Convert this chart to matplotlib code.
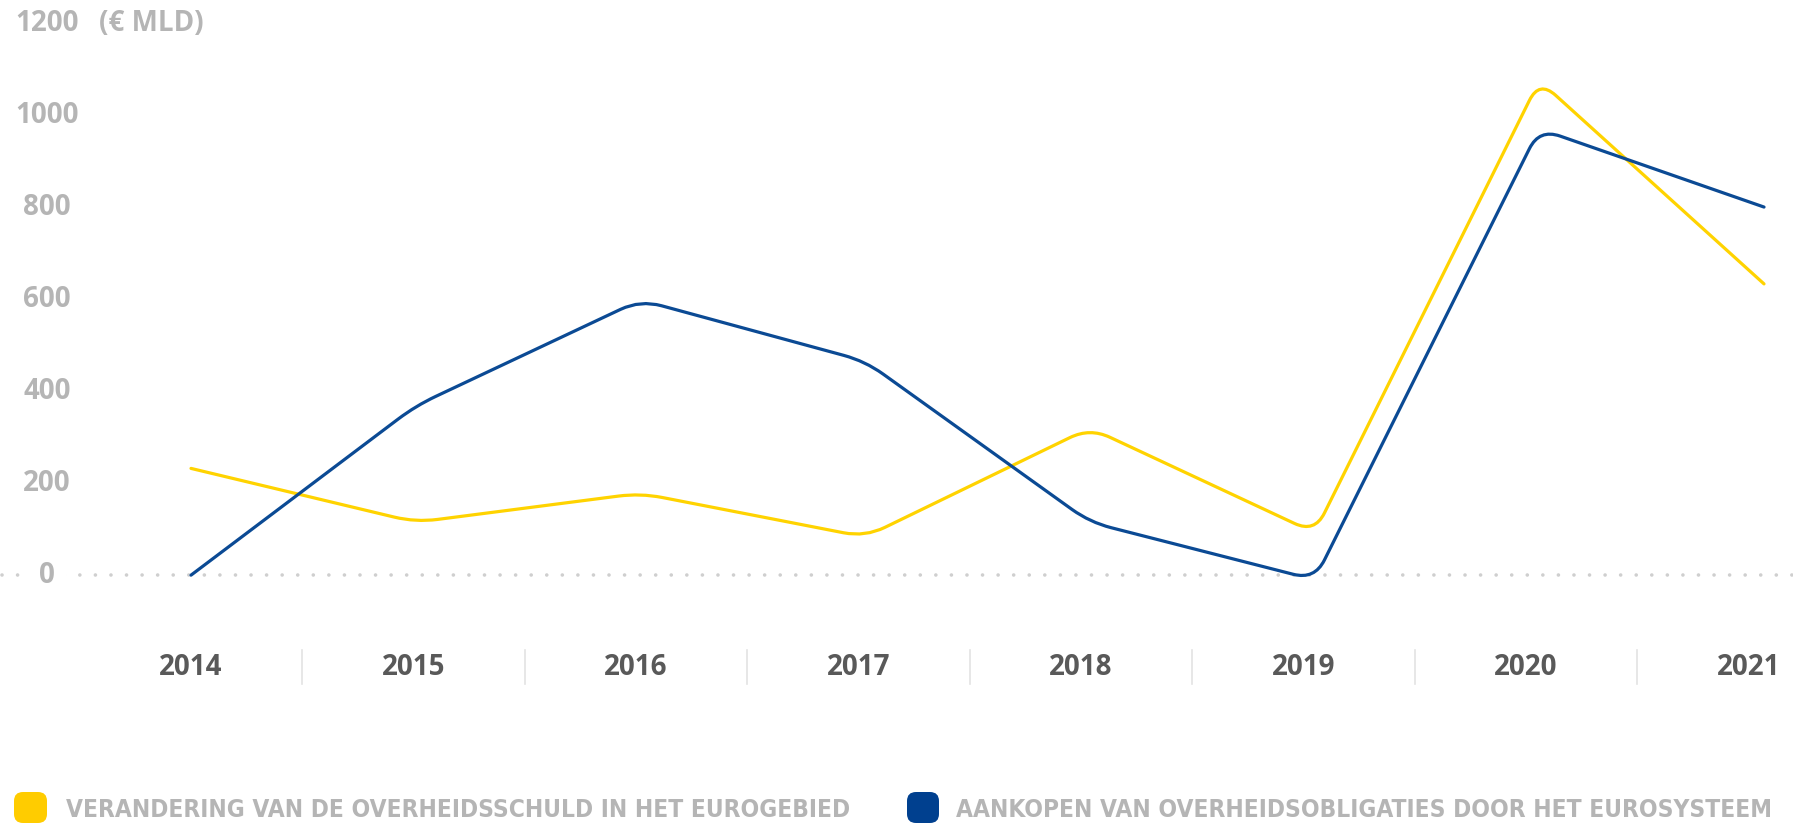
import numpy as np
import matplotlib
matplotlib.use("Agg")
import matplotlib.pyplot as plt
from matplotlib.path import Path
from matplotlib.patches import PathPatch, FancyBboxPatch

# =====================
# DATA
# =====================

years = ["2014", "2015", "2016", "2017", "2018", "2019", "2020", "2021"]
debt_change = [232, 115, 178, 83, 320, 92, 1075, 633]      # yellow
es_purchases = [0, 368, 598, 465, 115, -10, 970, 800]       # blue
y_ticks = [0, 200, 400, 600, 800, 1000, 1200]

label_debt = "VERANDERING VAN DE OVERHEIDSSCHULD IN HET EUROGEBIED"
label_es = "AANKOPEN VAN OVERHEIDSOBLIGATIES DOOR HET EUROSYSTEEM"

YELLOW = "#FFD300"
BLUE = "#0B4A94"
GREY_LIGHT = "#b5b5b5"
GREY_DARK = "#595959"

plt.rcParams["font.family"] = ["Open Sans", "DejaVu Sans"]

# =====================
# PLOT
# =====================

fig = plt.figure(figsize=(17.93, 8.25), dpi=100)
ax = fig.add_axes([0, 0, 1, 1])
ax.axis("off")
ax.set_xlim(-0.850, 7.129)
ax.set_ylim(-543, 1250)

x = np.arange(len(years))


def rounded_line(xs, ys, color, r=22):
    # polyline with rounded corners (radius in pixels)
    pts = ax.transData.transform(np.column_stack([xs, ys]))
    verts = [pts[0]]
    codes = [Path.MOVETO]
    for i in range(1, len(pts) - 1):
        p0, p1, p2 = pts[i - 1], pts[i], pts[i + 1]
        d1 = np.linalg.norm(p1 - p0)
        d2 = np.linalg.norm(p2 - p1)
        a = p1 + (p0 - p1) * min(r, d1 / 2) / d1
        b = p1 + (p2 - p1) * min(r, d2 / 2) / d2
        verts += [a, p1, b]
        codes += [Path.LINETO, Path.CURVE3, Path.CURVE3]
    verts.append(pts[-1])
    codes.append(Path.LINETO)
    verts = ax.transData.inverted().transform(np.array(verts))
    ax.add_patch(PathPatch(Path(verts, codes), fill=False, edgecolor=color,
                           lw=2.3, capstyle="round", joinstyle="round", zorder=3))


# zero line (dotted)
ax.plot([-0.84, 7.129], [0, 0], color="#cfcfcf", lw=2.6,
        linestyle=(0, (0.01, 4.3)), dash_capstyle="round", zorder=1)

rounded_line(x, debt_change, YELLOW)
rounded_line(x, es_purchases, BLUE)

# y tick labels
for v in y_ticks:
    ax.text(-0.64, v, str(v), ha="center", va="center", fontsize=20,
            fontweight="bold", color=GREY_LIGHT, zorder=2,
            bbox=dict(facecolor="white", edgecolor="none", pad=8))
ax.text(-0.41, 1200, "(€ MLD)", ha="left", va="center", fontsize=20,
        fontweight="bold", color=GREY_LIGHT)

# x labels and separators
for i, yr in enumerate(years):
    ax.text(i * 0.99, -200, yr, ha="center", va="center", fontsize=20,
            fontweight="bold", color=GREY_DARK)
    if i < len(years) - 1:
        xs = (i + 0.5) * 0.99
        ax.plot([xs, xs], [-163, -237], color="#e3e3e3", lw=1.2)

# legend
fig.patches.append(FancyBboxPatch((14, 2), 33, 31, boxstyle="round,pad=0,rounding_size=9",
                                  facecolor="#FFCC00", edgecolor="none", transform=None))
fig.patches.append(FancyBboxPatch((907, 2), 32, 31, boxstyle="round,pad=0,rounding_size=9",
                                  facecolor="#00408F", edgecolor="none", transform=None))
fig.text(66 / 1793, 15 / 825, label_debt, ha="left", va="center", fontsize=17.6,
         fontweight="bold", fontstretch="condensed", color=GREY_LIGHT,
         family=["DejaVu Sans"])
fig.text(956 / 1793, 15 / 825, label_es, ha="left", va="center", fontsize=17.6,
         fontweight="bold", fontstretch="condensed", color=GREY_LIGHT,
         family=["DejaVu Sans"])

plt.savefig("out.png", dpi=100)
